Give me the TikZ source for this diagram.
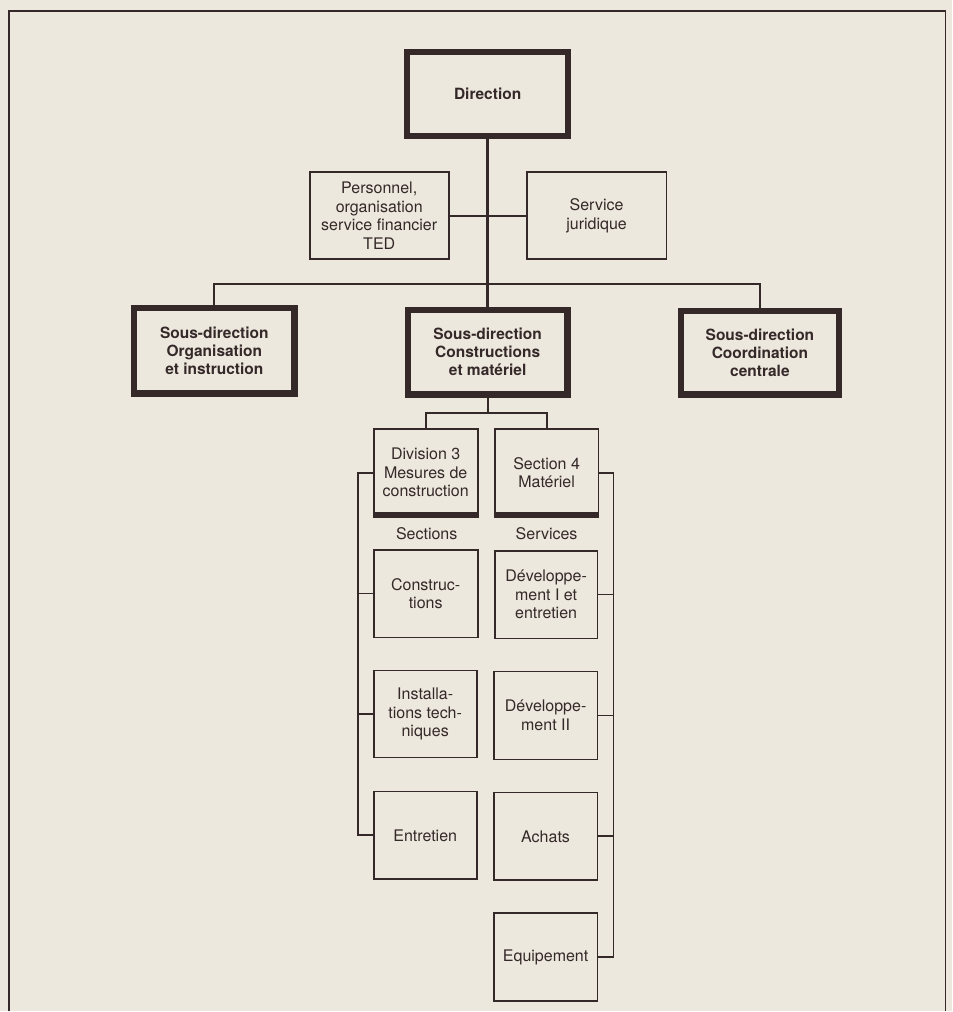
\documentclass[tikz,border=0pt]{standalone}
\usepackage{fontspec}
\setmainfont{TeX Gyre Heros}
\definecolor{paper}{RGB}{236,232,221}
\definecolor{ink}{RGB}{52,40,40}
\begin{document}
\begin{tikzpicture}[x=1pt,y=-1pt,
  every node/.style={inner sep=0pt, outer sep=0pt, align=center, text=ink},
  thickbox/.style={draw=ink, line width=6.5pt, font=\fontsize{15.5}{18}\selectfont\bfseries},
  thinbox/.style={draw=ink, line width=1.8pt, font=\fontsize{16}{18.5}\selectfont},
  lbl/.style={font=\fontsize{16}{18.5}\selectfont},
  conn/.style={draw=ink, line width=2pt},
  bracket/.style={draw=ink, line width=1.8pt},
]
% background and page size
\fill[paper] (0,0) rectangle (953,1012);
% frame
\draw[ink, line width=1.5pt] (9,1012) -- (9,11) -- (946,11) -- (946,1012);

% top level
\node[thickbox, minimum width=161pt, minimum height=84pt] (dir) at (488,94) {Direction};
\node[thinbox, minimum width=139pt, minimum height=87pt] (pers) at (379.5,216) {Personnel,\\organisation\\service financier\\TED};
\node[thinbox, minimum width=140pt, minimum height=87pt] (jur) at (597,216) {Service\\juridique};

% sous-directions
\node[thickbox, minimum width=160.5pt, minimum height=85.5pt] (org) at (214.5,351) {Sous-direction\\Organisation\\et instruction};
\node[thickbox, minimum width=159.5pt, minimum height=84.5pt] (con) at (488,352.5) {Sous-direction\\Constructions\\et matériel};
\node[thickbox, minimum width=158.5pt, minimum height=83.5pt] (coord) at (760.5,353) {Sous-direction\\Coordination\\centrale};

% division and section
\node[thinbox, minimum width=104pt, minimum height=88pt] (div3) at (426,473) {Division 3\\Mesures de\\construction};
\node[thinbox, minimum width=104pt, minimum height=88pt] (sec4) at (547,473) {Section 4\\Matériel};
\fill[ink] ([xshift=-0.9pt,yshift=-0.9pt]div3.south west) rectangle ([xshift=0.9pt,yshift=4.6pt]div3.south east);
\fill[ink] ([xshift=-0.9pt,yshift=-0.9pt]sec4.south west) rectangle ([xshift=0.9pt,yshift=4.6pt]sec4.south east);

\node[lbl] (lsec) at (427,534) {Sections};
\node[lbl] (lserv) at (547,534) {Services};

% left column
\node[thinbox, minimum width=104pt, minimum height=88pt] (constr) at (426,594) {Construc-\\tions};
\node[thinbox, minimum width=103pt, minimum height=87pt] (inst) at (425.5,714.5) {Installa-\\tions tech-\\niques};
\node[thinbox, minimum width=103pt, minimum height=88pt] (entr) at (425.5,836) {Entretien};

% right column
\node[thinbox, minimum width=103pt, minimum height=88pt] (dev1) at (546.5,595) {Développe-\\ment I et\\entretien};
\node[thinbox, minimum width=104pt, minimum height=88pt] (dev2) at (546,716) {Développe-\\ment II};
\node[thinbox, minimum width=104pt, minimum height=88pt] (ach) at (546,837) {Achats};
\node[thinbox, minimum width=104pt, minimum height=88pt] (equip) at (546,958) {Equipement};

% connectors
\coordinate (busy) at (0,284);
\coordinate (forky) at (0,413);
\coordinate (lx) at (358,0);
\coordinate (rx) at (614,0);

\draw[conn, line width=2.6pt] (dir.south) -- (con.north);
\draw[conn] (pers.east) -- (jur.west);
\draw[conn, line width=2.3pt] (org.north) -- (org.north |- busy) -- (coord.north |- busy) -- (coord.north);
\draw[conn] (con.south) -- (con.south |- forky);
\draw[conn] (div3.north) -- (div3.north |- forky) -- (sec4.north |- forky) -- (sec4.north);

\draw[bracket] (div3.west) -- (lx |- div3.west) -- (lx |- entr.west) -- (entr.west);
\draw[bracket] (constr.west) -- (lx |- constr.west);
\draw[bracket] (inst.west) -- (lx |- inst.west);

\draw[bracket] (sec4.east) -- (rx |- sec4.east) -- (rx |- equip.east) -- (equip.east);
\draw[bracket] (dev1.east) -- (rx |- dev1.east);
\draw[bracket] (dev2.east) -- (rx |- dev2.east);
\draw[bracket] (ach.east) -- (rx |- ach.east);
\end{tikzpicture}
\end{document}
